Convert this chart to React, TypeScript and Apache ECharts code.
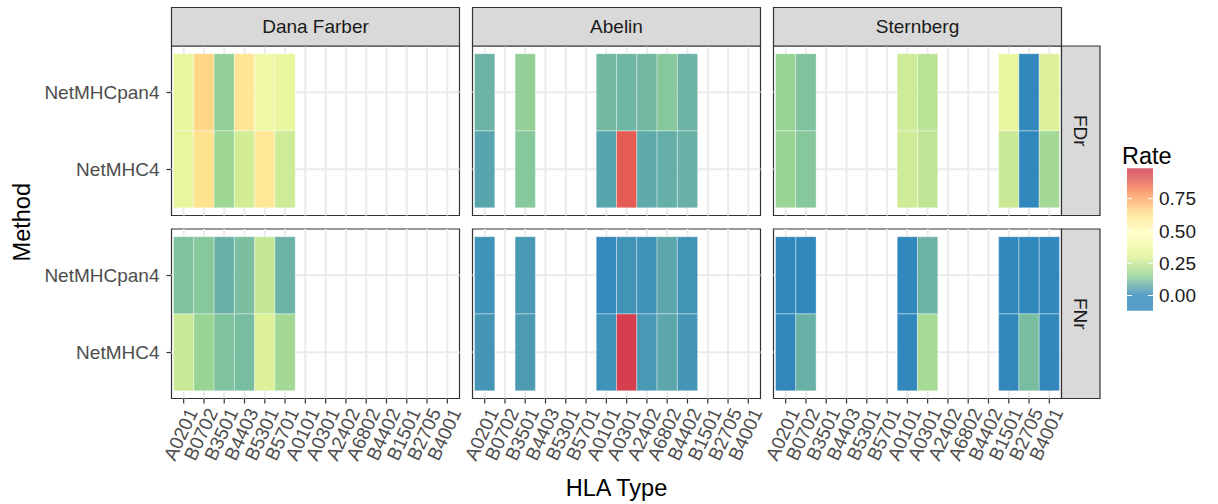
import React, { useEffect, useRef } from 'react';
import * as echarts from 'echarts';

// ---------- data ----------
const hlaTypes = ['A0201', 'B0702', 'B3501', 'B4403', 'B5301', 'B5701', 'A0101', 'A0301', 'A2402', 'A6802', 'B4402', 'B1501', 'B2705', 'B4001'];
const methods = ['NetMHC4', 'NetMHCpan4'];
const datasets = ['Dana Farber', 'Abelin', 'Sternberg'];
const metrics = ['FDr', 'FNr'];
const legendBreaks = [0, 0.25, 0.5, 0.75];
const spectral = ['#3288BD', '#99D594', '#E6F598', '#FFFFBF', '#FEE08B', '#FC8D59', '#D53E4F'];
const rateMin = 0;
const rateMax = 0.96;

// HLA types present in each dataset
const danaFarberHla = ['A0201', 'B0702', 'B3501', 'B4403', 'B5301', 'B5701'];
const abelinHla = ['A0201', 'B3501', 'A0101', 'A0301', 'A2402', 'A6802', 'B4402'];
const sternbergHla = ['A0201', 'B0702', 'A0101', 'A0301', 'B1501', 'B2705', 'B4001'];

// FDr rates
const danaFarberFDrNetMHCpan4 = [0.34, 0.66, 0.15, 0.61, 0.38, 0.35];
const danaFarberFDrNetMHC4 = [0.34, 0.63, 0.17, 0.28, 0.6, 0.27];
const abelinFDrNetMHCpan4 = [0.09, 0.15, 0.1, 0.095, 0.1, 0.13, 0.09];
const abelinFDrNetMHC4 = [0.06, 0.13, 0.06, 0.9, 0.07, 0.08, 0.085];
const sternbergFDrNetMHCpan4 = [0.16, 0.12, 0.27, 0.23, 0.35, 0.0, 0.3];
const sternbergFDrNetMHC4 = [0.16, 0.13, 0.27, 0.24, 0.26, 0.0, 0.18];

// FNr rates
const danaFarberFNrNetMHCpan4 = [0.12, 0.13, 0.085, 0.115, 0.25, 0.09];
const danaFarberFNrNetMHC4 = [0.26, 0.16, 0.12, 0.11, 0.3, 0.18];
const abelinFNrNetMHCpan4 = [0.02, 0.035, 0.005, 0.025, 0.02, 0.065, 0.025];
const abelinFNrNetMHC4 = [0.03, 0.04, 0.02, 0.96, 0.035, 0.065, 0.03];
const sternbergFNrNetMHCpan4 = [0.0, 0.0, 0.0, 0.09, 0.0, 0.0, 0.0];
const sternbergFNrNetMHC4 = [0.0, 0.085, 0.0, 0.19, 0.0, 0.11, 0.0];

// panels[row][col] -> { hla, byMethod: [NetMHC4, NetMHCpan4] }
const panels = [
  [
    { hla: danaFarberHla, byMethod: [danaFarberFDrNetMHC4, danaFarberFDrNetMHCpan4] },
    { hla: abelinHla, byMethod: [abelinFDrNetMHC4, abelinFDrNetMHCpan4] },
    { hla: sternbergHla, byMethod: [sternbergFDrNetMHC4, sternbergFDrNetMHCpan4] },
  ],
  [
    { hla: danaFarberHla, byMethod: [danaFarberFNrNetMHC4, danaFarberFNrNetMHCpan4] },
    { hla: abelinHla, byMethod: [abelinFNrNetMHC4, abelinFNrNetMHCpan4] },
    { hla: sternbergHla, byMethod: [sternbergFNrNetMHC4, sternbergFNrNetMHCpan4] },
  ],
];

// ---------- layout ----------
const FONT = "'Liberation Sans', Arial, Helvetica, sans-serif";
const PANEL_LEFT = [171.5, 472.5, 773.5];
const PANEL_TOP = [46, 229];
const PANEL_W = 288;
const PANEL_H = 169.5;
const STRIP = 38.5;
const X_MIN = -0.6;
const X_MAX = hlaTypes.length - 1 + 0.6;
const Y_MIN = -0.6;
const Y_MAX = methods.length - 1 + 0.6;
const DARK = '#333333';
const STRIP_FILL = '#D9D9D9';
const TICK_LEN = 5;
const LABEL_ROT = 65;

function buildOption() {
  const grid: any[] = [];
  const xAxis: any[] = [];
  const yAxis: any[] = [];
  const series: any[] = [];
  const tileSeriesIdx: number[] = [];
  const xIdx = hlaTypes.map((_, i) => i);
  const yIdx = methods.map((_, i) => i);

  for (let r = 0; r < metrics.length; r++) {
    for (let c = 0; c < datasets.length; c++) {
      const k = r * datasets.length + c;
      grid.push({
        left: PANEL_LEFT[c], top: PANEL_TOP[r], width: PANEL_W, height: PANEL_H,
        show: true, backgroundColor: '#ffffff', borderColor: DARK, borderWidth: 1.2,
        containLabel: false, outerBoundsMode: 'none',
      });
      const bottom = r === metrics.length - 1;
      const left = c === 0;
      xAxis.push({
        type: 'value', gridIndex: k, min: X_MIN, max: X_MAX, position: 'bottom',
        axisLine: { show: false, onZero: false },
        splitLine: { show: false },
        axisTick: { show: false },
        axisLabel: { show: false },
      });
      yAxis.push({
        type: 'value', gridIndex: k, min: Y_MIN, max: Y_MAX, position: 'left',
        axisLine: { show: false, onZero: false },
        splitLine: { show: false },
        axisTick: { show: left, customValues: yIdx, length: TICK_LEN, lineStyle: { color: DARK, width: 1.2 } },
        axisLabel: {
          show: left, customValues: yIdx, margin: 12,
          showMinLabel: true, showMaxLabel: true, hideOverlap: false,
          fontSize: 19, color: '#4D4D4D', fontFamily: FONT,
          formatter: (v: number) => methods[Math.round(v)] ?? '',
        },
      });
      // grid lines
      series.push({
        type: 'custom', xAxisIndex: k, yAxisIndex: k, silent: true, z: 1,
        data: [[0, 0]],
        encode: { x: 0, y: 1 },
        renderItem: (_p: any, api: any) => {
          const children: any[] = [];
          xIdx.forEach((i) => {
            const a = api.coord([i, Y_MIN]);
            const b = api.coord([i, Y_MAX]);
            children.push({ type: 'line', shape: { x1: a[0], y1: a[1], x2: b[0], y2: b[1] }, style: { stroke: '#EBEBEB', lineWidth: 2 } });
          });
          yIdx.forEach((j) => {
            const a = api.coord([X_MIN, j]);
            const b = api.coord([X_MAX, j]);
            children.push({ type: 'line', shape: { x1: a[0], y1: a[1], x2: b[0], y2: b[1] }, style: { stroke: '#EBEBEB', lineWidth: 2 } });
          });
          return { type: 'group', children };
        },
      });
      // tiles
      const p = panels[r][c];
      const data: any[] = [];
      p.byMethod.forEach((vals, m) => {
        vals.forEach((v, h) => {
          data.push([hlaTypes.indexOf(p.hla[h]), m, v]);
        });
      });
      tileSeriesIdx.push(series.length);
      series.push({
        type: 'custom', xAxisIndex: k, yAxisIndex: k, z: 2,
        dimensions: ['hla', 'method', 'rate'],
        encode: { x: 0, y: 1 },
        data,
        renderItem: (_p: any, api: any) => {
          const x = api.value(0);
          const y = api.value(1);
          const a = api.coord([x - 0.5, y + 0.5]);
          const b = api.coord([x + 0.5, y - 0.5]);
          return {
            type: 'rect',
            shape: { x: a[0], y: a[1], width: b[0] - a[0], height: b[1] - a[1] },
            style: { fill: api.visual('color'), stroke: 'rgba(255,255,255,0.35)', lineWidth: 1 },
          };
        },
      });
      // x tick marks and rotated HLA labels (bottom row only)
      if (bottom) {
        series.push({
          type: 'custom', xAxisIndex: k, yAxisIndex: k, silent: true, clip: false, z: 3,
          data: xIdx.map((i) => [i, Y_MIN]),
          encode: { x: 0, y: 1 },
          renderItem: (_p: any, api: any) => {
            const i = api.value(0);
            const pt = api.coord([i, Y_MIN]);
            return {
              type: 'group',
              children: [
                { type: 'line', shape: { x1: pt[0], y1: pt[1], x2: pt[0], y2: pt[1] + TICK_LEN }, style: { stroke: DARK, lineWidth: 1.2 } },
                {
                  type: 'text', x: pt[0], y: pt[1] + TICK_LEN + 2, rotation: (LABEL_ROT * Math.PI) / 180,
                  style: { text: hlaTypes[i], fontSize: 19, fill: '#4D4D4D', fontFamily: FONT, align: 'right', verticalAlign: 'top' },
                },
              ],
            };
          },
        });
      }
    }
  }

  const graphic: any[] = [];
  // top strips
  datasets.forEach((name, c) => {
    graphic.push({
      type: 'rect', shape: { x: PANEL_LEFT[c], y: PANEL_TOP[0] - STRIP, width: PANEL_W, height: STRIP },
      style: { fill: STRIP_FILL, stroke: DARK, lineWidth: 1.2 }, z: 10,
    });
    graphic.push({
      type: 'text', x: PANEL_LEFT[c] + PANEL_W / 2, y: PANEL_TOP[0] - STRIP / 2, z: 11,
      style: { text: name, fontSize: 19, fill: '#1A1A1A', fontFamily: FONT, align: 'center', verticalAlign: 'middle' },
    });
  });
  // right strips
  const rightX = PANEL_LEFT[2] + PANEL_W;
  metrics.forEach((name, r) => {
    graphic.push({
      type: 'rect', shape: { x: rightX, y: PANEL_TOP[r], width: STRIP, height: PANEL_H },
      style: { fill: STRIP_FILL, stroke: DARK, lineWidth: 1.2 }, z: 10,
    });
    graphic.push({
      type: 'text', x: rightX + STRIP / 2, y: PANEL_TOP[r] + PANEL_H / 2, rotation: -Math.PI / 2, z: 11,
      style: { text: name, fontSize: 19, fill: '#1A1A1A', fontFamily: FONT, align: 'center', verticalAlign: 'middle' },
    });
  });
  // axis titles
  graphic.push({
    type: 'text', x: (PANEL_LEFT[0] + PANEL_LEFT[2] + PANEL_W) / 2, y: 488,
    style: { text: 'HLA Type', fontSize: 23.5, fill: '#000000', fontFamily: FONT, align: 'center', verticalAlign: 'middle' },
  });
  graphic.push({
    type: 'text', x: 22, y: (PANEL_TOP[0] + PANEL_TOP[1] + PANEL_H) / 2, rotation: Math.PI / 2,
    style: { text: 'Method', fontSize: 23.5, fill: '#000000', fontFamily: FONT, align: 'center', verticalAlign: 'middle' },
  });
  // legend
  const barX = 1127, barW = 26, barTop = 168.3, barBottom = 310.7;
  const zeroY = 295.5, pxPerUnit = 129;
  const barH = barBottom - barTop;
  const stops: any[] = [{ offset: 0, color: spectral[0] }];
  spectral.forEach((col, i) => {
    const v = rateMin + (rateMax - rateMin) * (i / (spectral.length - 1));
    const y = zeroY - v * pxPerUnit;
    stops.push({ offset: Math.min(1, Math.max(0, (barBottom - y) / barH)), color: col });
  });
  stops.push({ offset: 1, color: spectral[spectral.length - 1] });
  graphic.push({
    type: 'text', x: 1122, y: 156,
    style: { text: 'Rate', fontSize: 23.5, fill: '#000000', fontFamily: FONT, align: 'left', verticalAlign: 'middle' },
  });
  graphic.push({
    type: 'rect', shape: { x: barX, y: barTop, width: barW, height: barH },
    style: { fill: new echarts.graphic.LinearGradient(0, 1, 0, 0, stops), opacity: 0.82 },
  });
  legendBreaks.forEach((b) => {
    const y = zeroY - b * pxPerUnit;
    graphic.push({ type: 'line', shape: { x1: barX, y1: y, x2: barX + 5, y2: y }, style: { stroke: '#ffffff', lineWidth: 1 } });
    graphic.push({ type: 'line', shape: { x1: barX + barW - 5, y1: y, x2: barX + barW, y2: y }, style: { stroke: '#ffffff', lineWidth: 1 } });
    graphic.push({
      type: 'text', x: 1159, y,
      style: { text: b.toFixed(2), fontSize: 19, fill: '#1A1A1A', fontFamily: FONT, align: 'left', verticalAlign: 'middle' },
    });
  });

  return {
    animation: false,
    backgroundColor: '#ffffff',
    textStyle: { fontFamily: FONT },
    grid, xAxis, yAxis, series, graphic,
    visualMap: {
      type: 'continuous', show: false, min: rateMin, max: rateMax, dimension: 2,
      seriesIndex: tileSeriesIdx, inRange: { color: spectral },
    },
  };
}

export default function App() {
  const ref = useRef<HTMLDivElement>(null);
  useEffect(() => {
    if (!ref.current) return;
    const chart = echarts.init(ref.current, null, { renderer: 'svg' });
    chart.setOption(buildOption() as any);
    return () => chart.dispose();
  }, []);
  return <div ref={ref} style={{ position: 'fixed', left: 0, top: 0, width: 1218, height: 504 }} />;
}
